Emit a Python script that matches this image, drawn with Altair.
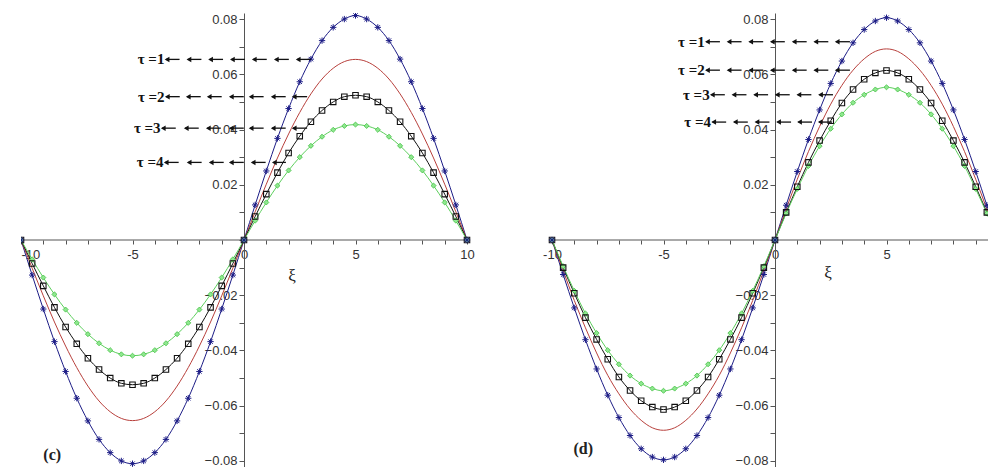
import altair as alt
import pandas as pd

# ---------------- data ----------------
xi = [-10, -9.5, -9, -8.5, -8, -7.5, -7, -6.5, -6, -5.5, -5, -4.5, -4, -3.5, -3, -2.5, -2, -1.5, -1, -0.5,
      0, 0.5, 1, 1.5, 2, 2.5, 3, 3.5, 4, 4.5, 5, 5.5, 6, 6.5, 7, 7.5, 8, 8.5, 9, 9.5, 10]

# panel (c)
blue_c_left = [0, -0.0127, -0.0250, -0.0368, -0.0476, -0.0573, -0.0655, -0.0722, -0.0770, -0.0800,
               -0.0810, -0.0800, -0.0770, -0.0722, -0.0655, -0.0573, -0.0476, -0.0368, -0.0250, -0.0127]
blue_c_right = [0, 0.0127, 0.0250, 0.0368, 0.0476, 0.0573, 0.0655, 0.0722, 0.0770, 0.0800,
                0.0813, 0.0800, 0.0770, 0.0722, 0.0655, 0.0573, 0.0476, 0.0368, 0.0250, 0.0127, 0]
red_c_left = [0, -0.0102, -0.0202, -0.0297, -0.0384, -0.0462, -0.0529, -0.0583, -0.0622, -0.0646,
              -0.0654, -0.0646, -0.0622, -0.0583, -0.0529, -0.0462, -0.0384, -0.0297, -0.0202, -0.0102]
red_c_right = [0, 0.0102, 0.0202, 0.0297, 0.0384, 0.0462, 0.0529, 0.0583, 0.0622, 0.0646,
               0.0654, 0.0646, 0.0622, 0.0583, 0.0529, 0.0462, 0.0384, 0.0297, 0.0202, 0.0102, 0]
black_c_left = [0, -0.0085, -0.0166, -0.0244, -0.0315, -0.0376, -0.0428, -0.0469, -0.0500, -0.0519,
                -0.0524, -0.0519, -0.0500, -0.0469, -0.0428, -0.0376, -0.0315, -0.0244, -0.0166, -0.0085]
black_c_right = [0, 0.0085, 0.0166, 0.0244, 0.0315, 0.0376, 0.0428, 0.0469, 0.0500, 0.0519,
                 0.0524, 0.0519, 0.0500, 0.0469, 0.0428, 0.0376, 0.0315, 0.0244, 0.0166, 0.0085, 0]
green_c_left = [0, -0.0070, -0.0136, -0.0197, -0.0252, -0.0300, -0.0341, -0.0374, -0.0399, -0.0414,
                -0.0419, -0.0414, -0.0399, -0.0374, -0.0341, -0.0300, -0.0252, -0.0197, -0.0136, -0.0070]
green_c_right = [0, 0.0070, 0.0136, 0.0197, 0.0252, 0.0300, 0.0341, 0.0374, 0.0399, 0.0413,
                 0.0418, 0.0413, 0.0399, 0.0374, 0.0341, 0.0300, 0.0252, 0.0197, 0.0136, 0.0070, 0]

# panel (d)
blue_d_left = [0, -0.0125, -0.0246, -0.0361, -0.0467, -0.0562, -0.0643, -0.0708, -0.0756, -0.0786,
               -0.0796, -0.0786, -0.0756, -0.0708, -0.0643, -0.0562, -0.0467, -0.0361, -0.0246, -0.0125]
blue_d_right = [0, 0.0126, 0.0248, 0.0364, 0.0471, 0.0567, 0.0648, 0.0714, 0.0762, 0.0793,
                0.0805, 0.0793, 0.0762, 0.0714, 0.0648, 0.0567, 0.0471, 0.0364, 0.0248, 0.0126, 0]
red_d_left = [0, -0.0111, -0.0219, -0.0318, -0.0409, -0.0490, -0.0557, -0.0612, -0.0653, -0.0680,
              -0.0689, -0.0680, -0.0653, -0.0612, -0.0557, -0.0490, -0.0409, -0.0318, -0.0219, -0.0111]
red_d_right = [0, 0.0112, 0.0220, 0.0320, 0.0411, 0.0492, 0.0560, 0.0615, 0.0656, 0.0683,
               0.0692, 0.0683, 0.0656, 0.0615, 0.0560, 0.0492, 0.0411, 0.0320, 0.0220, 0.0112, 0]
black_d_left = [0, -0.0100, -0.0193, -0.0281, -0.0360, -0.0432, -0.0496, -0.0545, -0.0582, -0.0605,
                -0.0614, -0.0605, -0.0582, -0.0545, -0.0496, -0.0432, -0.0360, -0.0281, -0.0193, -0.0100]
black_d_right = [0, 0.0100, 0.0193, 0.0281, 0.0360, 0.0432, 0.0496, 0.0545, 0.0582, 0.0605,
                 0.0614, 0.0605, 0.0582, 0.0545, 0.0496, 0.0432, 0.0360, 0.0281, 0.0193, 0.0100, 0]
green_d_left = [0, -0.0095, -0.0184, -0.0266, -0.0337, -0.0399, -0.0450, -0.0491, -0.0520, -0.0538,
                -0.0546, -0.0538, -0.0520, -0.0491, -0.0450, -0.0399, -0.0337, -0.0266, -0.0184, -0.0095]
green_d_right = [0, 0.0096, 0.0185, 0.0268, 0.0340, 0.0403, 0.0455, 0.0497, 0.0526, 0.0545,
                 0.0553, 0.0545, 0.0526, 0.0497, 0.0455, 0.0403, 0.0340, 0.0268, 0.0185, 0.0096, 0]

series_names = ["blue", "red", "black", "green"]
series_colors = ["#1c1c86", "#b8403c", "#111111", "#5ccf5c"]

# annotations  (tau labels with rows of arrows), in data coordinates
tau_labels = ["τ =1", "τ =2", "τ =3", "τ =4"]
row_y_c = [0.0654, 0.0519, 0.0405, 0.0281]
heads_c = [[-3.55, -2.57, -1.60, -0.62, 0.36, 1.35, 2.33],
           [-3.54, -2.60, -1.66, -0.67, 0.22, 1.21, 2.15],
           [-3.72, -2.69, -1.70, -0.67, 0.22, 1.21, 2.15],
           [-3.59, -2.56, -1.57, -0.67, 0.31, 1.26]]
end_c = [3.0, 2.83, 2.83, 1.88]
row_y_d = [0.0718, 0.0615, 0.0526, 0.0427]
heads_d = [[-3.13, -2.16, -1.19, -0.22, 0.76, 1.73, 2.69],
           [-3.13, -2.16, -1.19, -0.22, 0.76, 1.73, 2.69],
           [-2.91, -1.94, -0.97, 0.0, 0.97, 1.94],
           [-2.85, -1.88, -0.91, 0.06, 1.0, 1.93]]
end_d = [3.36, 3.36, 2.6, 2.56]
panel_tag = ["(c)", "(d)"]
tag_pos = [(-8.6, -0.0780), (-8.6, -0.0758)]
xi_label_pos = [(2.15, -0.0130), (2.38, -0.0121)]
x_tick_values = [list(range(-10, 11)), list(range(-10, 11))]
y_tick_values = [-0.08, -0.07, -0.06, -0.05, -0.04, -0.03, -0.02, -0.01, 0,
                 0.01, 0.02, 0.03, 0.04, 0.05, 0.06, 0.07, 0.08]

# ---------------- layout (pixels) ----------------
PX_PER_UNIT = 22.3            # 20 units of xi per 446 px panel
TOTAL_W, H = 967, 454         # one shared drawing area for both panels
PANEL_LEFT = [0, 531]         # left edge (xi = -10) of each panel inside the drawing area
YDOM = [-0.0822, 0.0822]
zero_from_bottom = H * (0 - YDOM[0]) / (YDOM[1] - YDOM[0])

ASTERISK = "M-1,0L1,0M0,-1L0,1M-0.7,-0.7L0.7,0.7M-0.7,0.7L0.7,-0.7"


def build_panel(idx, left_lists, right_lists, row_y, heads, ends, tag, tagxy, xixy):
    rows = []
    for name, lft, rgt in zip(series_names, left_lists, right_lists):
        vals = lft + rgt
        for x, v in zip(xi, vals):
            rows.append({"xi": x, "u": v, "s": name})
    df = pd.DataFrame(rows)

    x_lo = -10 - PANEL_LEFT[idx] / PX_PER_UNIT
    x_hi = x_lo + TOTAL_W / PX_PER_UNIT
    xs = alt.Scale(domain=[x_lo, x_hi], nice=False, zero=False)
    ys = alt.Scale(domain=YDOM, nice=False, zero=False)
    xaxis = alt.Axis(values=x_tick_values[idx], title=None, orient="bottom",
                     offset=-zero_from_bottom, domain=False,
                     labelExpr="datum.value % 5 === 0 ? replace(datum.label, '\u2212', '-') : ''",
                     tickSize=4, labelPadding=4, labelOverlap=False, grid=False)
    yaxis = alt.Axis(values=y_tick_values, title=None, orient="left",
                     offset=-(PANEL_LEFT[idx] + 10 * PX_PER_UNIT),
                     labelExpr="(abs(round(datum.value*100)) % 2 === 0 && round(datum.value*100) !== 0) ? format(datum.value, '.2f') : ''",
                     tickSize=5, labelPadding=2, labelOverlap=False, grid=False)
    X = alt.X("xi:Q", scale=xs, axis=xaxis)
    Y = alt.Y("u:Q", scale=ys, axis=yaxis)

    # x axis line from -10 to 10
    axis_df = pd.DataFrame([{"xi": -10, "x2": 10, "u": 0}])
    axis_line = alt.Chart(axis_df).mark_rule(color="#555555", strokeWidth=1, clip=True).encode(
        x=X, x2=alt.X2("x2:Q"), y=Y)

    base = alt.Chart(df)
    lines = base.mark_line(strokeWidth=1, interpolate="monotone", clip=True).encode(
        x=X, y=Y,
        color=alt.Color("s:N", scale=alt.Scale(domain=series_names, range=series_colors), legend=None),
    )
    green_pts = base.transform_filter(alt.datum.s == "green").mark_point(
        shape="diamond", size=26, filled=True, fill="#8fe88f", stroke="#45c045",
        strokeWidth=0.8, opacity=1, clip=True).encode(x=X, y=Y)
    black_pts = base.transform_filter(alt.datum.s == "black").mark_point(
        shape="square", size=30, filled=False, color="#111111", strokeWidth=1.1,
        opacity=1, clip=True).encode(x=X, y=Y)
    blue_pts = base.transform_filter(alt.datum.s == "blue").mark_point(
        shape=ASTERISK, size=40, filled=False, color="#1c1c86", strokeWidth=1,
        opacity=1, clip=True).encode(x=X, y=Y)

    # arrows
    segs, tips, labs = [], [], []
    for lab, y, hs, e in zip(tau_labels, row_y, heads, ends):
        for i, h in enumerate(hs):
            tail = e if i == len(hs) - 1 else h + 0.66
            segs.append({"xi": h + 0.05, "x2": tail, "u": y})
            tips.append({"xi": h + 0.1, "u": y})
        labs.append({"xi": hs[0] - 0.02, "u": y, "t": lab})
    arrow_lines = alt.Chart(pd.DataFrame(segs)).mark_rule(color="#111111", strokeWidth=1.3).encode(
        x=X, x2=alt.X2("x2:Q"), y=Y)
    arrow_tips = alt.Chart(pd.DataFrame(tips)).mark_point(
        shape="triangle-left", size=30, filled=True, color="#111111", opacity=1).encode(x=X, y=Y)
    tau_text = alt.Chart(pd.DataFrame(labs)).mark_text(
        align="right", baseline="middle", font="Liberation Serif", fontSize=15,
        fontWeight="bold", color="#111111").encode(x=X, y=Y, text="t:N")

    misc_df = pd.DataFrame([
        {"xi": tagxy[0], "u": tagxy[1], "t": tag, "kind": "tag"},
        {"xi": xixy[0], "u": xixy[1], "t": "ξ", "kind": "xi"},
    ])
    tag_text = alt.Chart(misc_df).transform_filter(alt.datum.kind == "tag").mark_text(
        align="center", baseline="middle", font="Liberation Serif", fontSize=16,
        fontWeight="bold", color="#222222").encode(x=X, y=Y, text="t:N")
    xi_text = alt.Chart(misc_df).transform_filter(alt.datum.kind == "xi").mark_text(
        align="center", baseline="middle", font="Liberation Serif", fontSize=17,
        color="#222222").encode(x=X, y=Y, text="t:N")

    return alt.layer(axis_line, lines, green_pts, black_pts, blue_pts, arrow_lines, arrow_tips,
                     tau_text, tag_text, xi_text)


panel_c = build_panel(0, [blue_c_left, red_c_left, black_c_left, green_c_left],
                      [blue_c_right, red_c_right, black_c_right, green_c_right],
                      row_y_c, heads_c, end_c, panel_tag[0], tag_pos[0], xi_label_pos[0])
panel_d = build_panel(1, [blue_d_left, red_d_left, black_d_left, green_d_left],
                      [blue_d_right, red_d_right, black_d_right, green_d_right],
                      row_y_d, heads_d, end_d, panel_tag[1], tag_pos[1], xi_label_pos[1])

chart = alt.layer(panel_c, panel_d).resolve_scale(
    x="independent", y="independent"
).properties(
    width=TOTAL_W, height=H,
    autosize=alt.AutoSizeParams(type="none"),
    padding={"left": 13, "top": 5, "right": 0, "bottom": 0},
).configure_view(stroke=None).configure_axis(
    domainColor="#555555", tickColor="#555555", labelColor="#333333",
    labelFont="Liberation Sans", labelFontSize=13, domainWidth=1, tickWidth=1
)

chart.save("out.html", embed_options={"renderer": "svg", "actions": False})
